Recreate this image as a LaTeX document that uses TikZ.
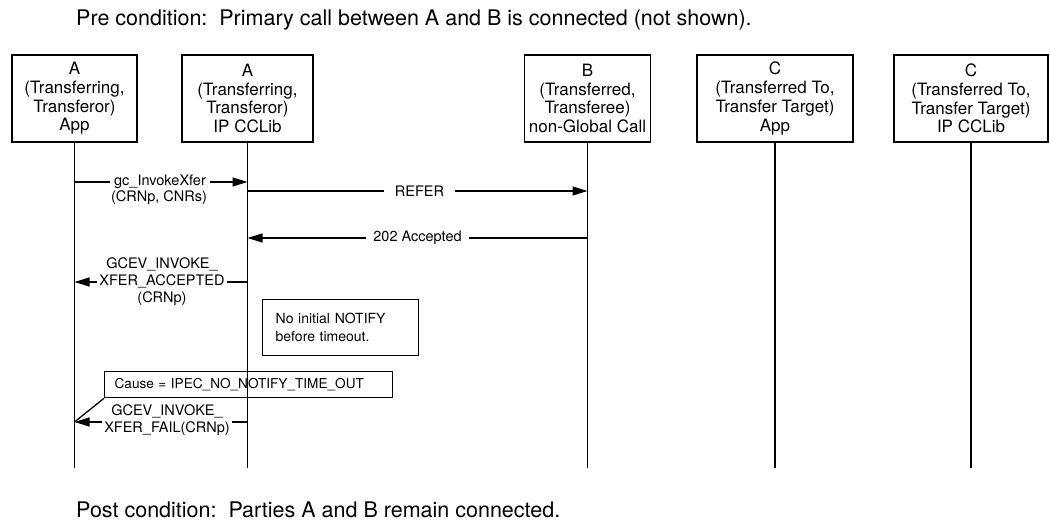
\documentclass[tikz,border=0pt]{standalone}
\usepackage{fontspec}
\setmainfont{TeX Gyre Heros}
\usetikzlibrary{arrows.meta}
\begin{document}
\begin{tikzpicture}[x=1pt,y=-1pt,
  lw/.style={line width=1.3pt},
  lbox/.style={draw, lw, align=center, inner sep=0pt, minimum height=87pt,
    font=\fontsize{17}{18.7}\selectfont},
  life/.style={lw},
  msg/.style={lw, -{Triangle[length=15pt,width=9pt]}},
  lbl/.style={fill=white, inner xsep=4pt, inner ysep=0.5pt, align=center,
    font=\fontsize{14.5}{17}\selectfont},
  plain/.style={inner sep=0pt, align=center, font=\fontsize{14.5}{17}\selectfont},
  note/.style={draw, lw, align=left, font=\fontsize{14}{18}\selectfont},
  cond/.style={anchor=west, inner sep=0pt, font=\fontsize{21.5}{24}\selectfont}]
\useasboundingbox (0,0) rectangle (1050,529);

\node[cond] (pre) at (76,20) {Pre condition:\ \ Primary call between A and B is connected (not shown).};
\node[cond] (post) at (76,510) {Post condition:\ \ Parties A and B remain connected.};

% participant boxes
\node[lbox, minimum width=125pt] (aapp) at (74.5,98.5) {A\\(Transferring,\\Transferor)\\App};
\node[lbox, minimum width=131pt] (alib) at (247.5,98.5) {A\\(Transferring,\\Transferor)\\IP CCLib};
\node[lbox, minimum width=126pt] (bng) at (587.5,98.5) {B\\(Transferred,\\Transferee)\\non-Global Call};
\node[lbox, minimum width=156pt] (capp) at (775,98.5) {C\\(Transferred To,\\Transfer Target)\\App};
\node[lbox, minimum width=154pt] (clib) at (971,98.5) {C\\(Transferred To,\\Transfer Target)\\IP CCLib};

% lifeline ends
\coordinate (aappE) at (74.5,468);
\coordinate (alibE) at (247.5,468);
\coordinate (bngE) at (587.5,468);
\coordinate (cappE) at (775,468);
\coordinate (clibE) at (971,468);
\draw[life] (aapp.south) -- (aappE);
\draw[life] (alib.south) -- (alibE);
\draw[life] (bng.south) -- (bngE);
\draw[life] (capp.south) -- (cappE);
\draw[life] (clib.south) -- (clibE);

% message points
\coordinate (m1a) at (74.5,182);  \coordinate (m1b) at (247.5,182);
\coordinate (m2a) at (247.5,191); \coordinate (m2b) at (587.5,191);
\coordinate (m3a) at (587.5,238); \coordinate (m3b) at (247.5,238);
\coordinate (m4a) at (247.5,282); \coordinate (m4b) at (74.5,282);
\coordinate (m5a) at (247.5,422); \coordinate (m5b) at (74.5,422);

\draw[msg] (m1a) -- node[lbl, xshift=-1pt] (l1) {gc\_InvokeXfer} (m1b);
\node[plain] (l1b) at (159,198) {(CRNp, CNRs)};

\draw[msg] (m2a) -- node[lbl, inner xsep=11pt, xshift=2pt] (l2) {REFER} (m2b);
\draw[msg] (m3a) -- node[lbl, inner xsep=7pt] (l3) {202 Accepted} (m3b);

\draw[msg] (m4a) -- node[lbl, inner xsep=2.5pt, xshift=1pt] (l4) {GCEV\_INVOKE\_\\XFER\_ACCEPTED\\(CRNp)} (m4b);

% note box
\node[note, minimum width=156pt, minimum height=56pt, text width=130pt, inner xsep=13pt, anchor=north west] (n1) at (262,299) {No initial NOTIFY\\before timeout.};

% cause box
\node[draw, lw, anchor=north west, minimum width=288pt, minimum height=26pt, inner xsep=10pt,
  font=\fontsize{13.6}{16}\selectfont, text width=268pt, align=left] (cause) at (104,371) {Cause = IPEC\_NO\_NOTIFY\_TIME\_OUT};

\draw[msg] (m5a) -- node[lbl, inner xsep=2.5pt, xshift=6pt, yshift=1.5pt] (l5) {GCEV\_INVOKE\_\\XFER\_FAIL(CRNp)} (m5b);
\draw[lw] (cause.south west) -- (m5b);

\end{tikzpicture}
\end{document}
